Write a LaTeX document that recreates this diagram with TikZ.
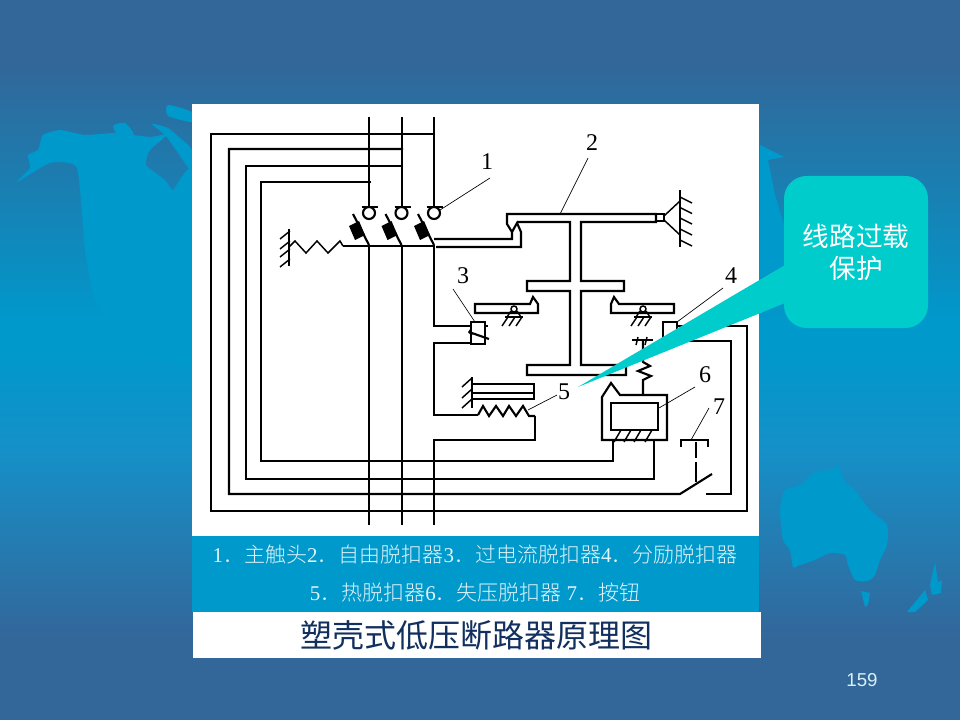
\documentclass[tikz,border=0pt]{standalone}
\usepackage{fontspec}
\setmainfont{Liberation Serif}
\newfontfamily\cjk{Noto Sans CJK SC}[UprightFont={* Light}]
\newfontfamily\cjkreg{Noto Sans CJK SC}
\newfontfamily\pagefont{Liberation Sans}
\definecolor{bgdark}{HTML}{336699}
\definecolor{bgmid}{HTML}{0099CC}
\definecolor{bglow}{HTML}{1590C8}
\definecolor{callcol}{HTML}{00CCCC}
\definecolor{titlecol}{HTML}{12305F}
\pgfdeclareverticalshading{bgblue}{100bp}{color(0bp)=(bgdark); color(30.5bp)=(bgdark); color(43.75bp)=(bglow); color(50.8bp)=(bgmid); color(52.5bp)=(bgmid); color(70.8bp)=(bgdark); color(100bp)=(bgdark)}
\tikzset{
  wire/.style={black,line width=1.6pt,line join=miter},
  thinwire/.style={black,line width=1.1pt},
  leader/.style={black,line width=0.5pt},
  numlabel/.style={inner sep=0pt,font=\fontsize{18}{18}\selectfont},
  captext/.style={inner sep=0pt,text=white!88!bgmid,font=\cjk\fontsize{15.75}{15.75}\selectfont},
  map/.style={fill=bgmid}
}
\newcommand{\capnum}[1]{{\rmfamily #1}}
\begin{document}
\begin{tikzpicture}[x=0.75pt,y=-0.75pt]
  \useasboundingbox (0,0) rectangle (960,720);
  \shade[shading=bgblue] (0,0) rectangle (960,720);
  % world map
  \fill[map] plot[smooth cycle,tension=0.3] coordinates {(17,182) (30,168) (28,155) (38,150) (43,135) (60,130) (85,135) (115,133) (150,137) (168,134) (150,150) (146,165) (165,180) (173,190) (192,172) (192,360) (125,345) (95,300) (85,250) (77,168) (50,163)};
  \fill[map] plot[smooth cycle,tension=0.4] coordinates {(113,126) (125,123) (134,135) (120,138)};
  \fill[map] plot[smooth cycle,tension=0.4] coordinates {(152,124) (168,128) (180,138) (192,150) (192,172) (176,150) (165,135)};
  \fill[map] plot[smooth cycle,tension=0.4] coordinates {(168,105) (192,112) (192,122) (168,116)};
  \fill[map] (760,145) -- (784,157) -- (768,160) -- (775,195) -- (784,225) -- (784,265) -- (760,278) -- cycle;
  \fill[map] plot[smooth cycle,tension=0.4] coordinates {(780,510) (785,490) (800,485) (815,472) (830,470) (838,466) (845,482) (855,490) (870,510) (887,525) (887,545) (880,560) (875,575) (868,581) (855,580) (848,565) (845,555) (830,553) (815,560) (800,565) (793,567) (790,550) (783,540)};
  \fill[map] (861,591) -- (870,593) -- (868,605) -- (865,607) -- cycle;
  \fill[map] (907,612) -- (925,590) -- (928,600) -- (915,612) -- cycle;
  \fill[map] (935,562) -- (938,582) -- (942,580) -- (941,593) -- (932,595) -- (930,585) -- cycle;
  % panels
  \fill[white] (192,104) rectangle (759,536);
  \fill[bgmid] (192,536) rectangle (759,612);
  \fill[white] (193,612) rectangle (761,658);
  % phases and control wires
  \draw[wire] (369,117) -- (369,207);
  \draw[wire] (402,117) -- (402,207);
  \draw[wire] (434,117) -- (434,207);
  \draw[wire] (369,245) -- (369,525);
  \draw[wire] (402,245) -- (402,525);
  \draw[wire] (434,245) -- (434,326) -- (471,326);
  \draw[wire] (471,343) -- (434,343) -- (434,415) -- (478,415);
  \draw[wire] (535,416) -- (535,440) -- (434,440) -- (434,525);
  \draw[wire] (435,134) -- (211,134) -- (211,511) -- (747,511) -- (747,326) -- (677,326);
  \draw[wire] (403,149) -- (229,149) -- (229,494) -- (680,494) -- (712,474);
  \draw[wire] (706,494) -- (731,494) -- (731,341) -- (677,341);
  \draw[wire] (403,166) -- (246,166) -- (246,479) -- (654,479) -- (654,440);
  \draw[wire] (371,182) -- (261,182) -- (261,461) -- (613,461) -- (613,440);
  % contacts
  \foreach \cx in {0,32.5,65}{
    \draw[wire] (\cx+369,213) circle [radius=6];
    \draw[wire] (\cx+362,207) -- (\cx+378,207);
    \draw[wire] (\cx+353,214) -- (\cx+369,245);
    \fill[black] (\cx+349,226) -- (\cx+359,221) -- (\cx+365,235) -- (\cx+355,240) -- cycle;
  }
  % spring and wall
  \draw[wire] (343,246) -- (434,246);
  \draw[thinwire] (343,246) -- (340,241) -- (328,253) -- (317,241) -- (306,253) -- (295,241) -- (289,247);
  \draw[wire] (289,229) -- (289,266);
  \foreach \hy in {239,249,257,267}
    \draw[thinwire] (280,\hy) -- (290,\hy-8);
  % free release
  \draw[wire] (434,239) -- (512,239) -- (512,232) -- (507,224) -- (507,214) -- (656,214) -- (656,222) -- (581,222) -- (581,281) -- (624,281) -- (624,291) -- (581,291) -- (581,365) -- (626,365) -- (626,375) -- (527,375) -- (527,365) -- (570,365) -- (570,291) -- (527,291) -- (527,281) -- (570,281) -- (570,222) -- (517,222);
  \draw[wire] (436,247) -- (521,247) -- (521,232) -- (517,223) -- (512,232);
  \draw[thinwire] (656,214) rectangle (664,221);
  \draw[thinwire] (664,216) -- (680,201);
  \draw[thinwire] (664,220) -- (680,235);
  \draw[wire] (680,190) -- (680,247);
  \foreach \hy in {197,207.5,218,229,240}
    \draw[thinwire] (680,\hy) -- (692,\hy+6);
  % latches
  \draw[wire] (475,304) -- (530,304) -- (533,297) -- (538,304) -- (538,313) -- (475,313) -- cycle;
  \draw[wire] (674,304) -- (619,304) -- (614,297) -- (611,304) -- (611,313) -- (674,313) -- cycle;
  \foreach \pv in {514,643}{
    \draw[thinwire] (\pv,309) circle [radius=3];
    \draw[thinwire] (\pv-9,317) -- (\pv+9,317);
    \draw[thinwire] (\pv-3,311) -- (\pv-7,317);
    \draw[thinwire] (\pv+3,311) -- (\pv+7,317);
    \draw[thinwire] (\pv-6,317) -- (\pv-12,326);
    \draw[thinwire] (\pv+1,317) -- (\pv-5,326);
    \draw[thinwire] (\pv+8,317) -- (\pv+2,326);
  }
  % overcurrent release 3
  \draw[wire] (471,322) rectangle (485,344);
  \draw[wire] (469,332) -- (489,339);
  \draw[thinwire] (471,329) -- (469,332) -- (472,335);
  \draw[thinwire] (485,326) -- (488,326);
  % shunt release 4
  \draw[wire] (663,340) -- (663,322) -- (677,322) -- (677,344);
  \draw[wire] (632,340) -- (653,340);
  \draw[thinwire] (638,337) -- (636,345);
  \draw[thinwire] (647,337) -- (645,345);
  % bimetal 5
  \draw[wire] (472,384) -- (534,384) -- (534,399) -- (472,399);
  \draw[wire] (472,393) -- (534,393);
  \draw[wire] (472,377) -- (472,408);
  \foreach \hy in {387,398,408}
    \draw[thinwire] (462,\hy) -- (472,\hy-9);
  \draw[wire] (478,415) -- (483,406) -- (489,416) -- (496,406) -- (503,416) -- (509,406) -- (516,416) -- (523,406) -- (529,416) -- (535,416);
  % undervoltage release 6
  \draw[wire] (643,340) -- (643,362) -- (650,366) -- (638,371) -- (651,376) -- (643,380) -- (643,395);
  \draw[wire] (602,440) -- (602,397) -- (611,383) -- (620,395) -- (667,395) -- (667,440) -- cycle;
  \draw[wire] (611,403) rectangle (658,430);
  \foreach \hx in {614,624,634,645}
    \draw[thinwire] (\hx,442) -- (\hx+7,430);
  % button 7
  \draw[wire] (681,447) -- (681,440) -- (708,440) -- (708,447);
  \draw[black,line width=0.8pt,dash pattern=on 12pt off 3pt on 15pt off 3pt] (696,442) -- (696,483);
  % item labels
  \coordinate (tip1) at (440,210);
  \coordinate (end1) at (490,178);
  \coordinate (tip2) at (560,214);
  \coordinate (end2) at (588,158);
  \coordinate (tip3) at (475,322);
  \coordinate (end3) at (453,289);
  \coordinate (tip4) at (677,322);
  \coordinate (end4) at (723,288);
  \coordinate (tip5) at (528,410);
  \coordinate (end5) at (557,395);
  \coordinate (tip6) at (659,408);
  \coordinate (end6) at (695,387);
  \coordinate (tip7) at (691,440);
  \coordinate (end7) at (709,408);
  \foreach \n in {1,...,7}
    \draw[leader] (tip\n) -- (end\n);
  \node[numlabel] (num1) at (487,162) {1};
  \node[numlabel] (num2) at (592,143) {2};
  \node[numlabel] (num3) at (463,276) {3};
  \node[numlabel] (num4) at (731,276) {4};
  \node[numlabel] (num5) at (564,392) {5};
  \node[numlabel] (num6) at (705,375) {6};
  \node[numlabel] (num7) at (719,407) {7};
  % callout
  \coordinate (calltip) at (578,387);
  \coordinate (callup) at (790,262);
  \coordinate (calldown) at (790,301);
  \fill[callcol] (calltip) -- (callup) -- (calldown) -- cycle;
  \node[fill=callcol,rounded corners=17pt,minimum width=108pt,minimum height=114pt,inner sep=0pt,
    align=center,text=white,font=\cjkreg\fontsize{20}{24}\selectfont] (callbox) at (856,252) {线路过载\\保护};
  % captions
  \node[captext] (capone) at (475,555) {\capnum{1}．主触头\capnum{2}．自由脱扣器\capnum{3}．过电流脱扣器\capnum{4}．分励脱扣器};
  \node[captext] (captwo) at (475,593) {\capnum{5}．热脱扣器\capnum{6}．失压脱扣器 \capnum{7}．按钮};
  \node[inner sep=0pt,text=titlecol,font=\cjkreg\fontsize{24}{24}\selectfont] (title) at (476,635) {塑壳式低压断路器原理图};
  \node[inner sep=0pt,text=white!85!bgmid,font=\pagefont\fontsize{14}{14}\selectfont] (pageno) at (862,680) {159};
\end{tikzpicture}
\end{document}
